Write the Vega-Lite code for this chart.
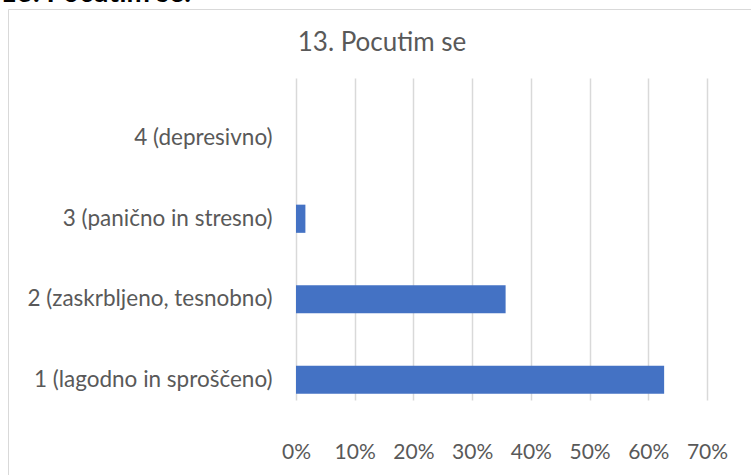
{
  "$schema": "https://vega.github.io/schema/vega-lite/v6.json",
  "autosize": "none",
  "width": 760,
  "height": 480,
  "padding": {"left": 8, "top": 9, "right": 0, "bottom": 0},
  "background": "white",
  "config": {
    "view": {"stroke": "#d9d9d9", "strokeWidth": 1},
    "font": "Lato"
  },
  "title": {
    "text": "13. Pocutim se",
    "anchor": "middle",
    "frame": "group",
    "dx": -6,
    "dy": 52,
    "offset": -46,
    "baseline": "alphabetic",
    "fontSize": 26,
    "fontWeight": "normal",
    "color": "#595959",
    "font": "Lato"
  },
  "data": {
    "values": [
      {"odgovor": "4 (depresivno)", "delez": 0},
      {"odgovor": "3 (panično in stresno)", "delez": 0.016},
      {"odgovor": "2 (zaskrbljeno, tesnobno)", "delez": 0.357},
      {"odgovor": "1 (lagodno in sproščeno)", "delez": 0.627}
    ]
  },
  "mark": {"type": "bar", "color": "#4472C4"},
  "encoding": {
    "y": {
      "field": "odgovor",
      "type": "nominal",
      "sort": ["4 (depresivno)", "3 (panično in stresno)", "2 (zaskrbljeno, tesnobno)", "1 (lagodno in sproščeno)"],
      "scale": {"range": [89, 411], "paddingInner": 0.65, "paddingOuter": 0.325},
      "axis": {
        "title": "13. Pocutim se:",
        "titleAngle": 0,
        "titleAlign": "left",
        "titleBaseline": "alphabetic",
        "titleX": -8,
        "titleY": -8,
        "titleFontSize": 28,
        "titleFontWeight": "bold",
        "titleColor": "#000000",
        "titleFont": "Lato",
        "domain": false,
        "ticks": false,
        "tickSize": 0,
        "grid": false,
        "labelPadding": -264,
        "labelAlign": "right",
        "labelLimit": 0,
        "labelFontSize": 22.5,
        "labelColor": "#595959",
        "labelFont": "Lato"
      }
    },
    "x": {
      "field": "delez",
      "type": "quantitative",
      "scale": {"domain": [0, 0.7], "range": [288, 699], "nice": false},
      "axis": {
        "title": null,
        "values": [0, 0.1, 0.2, 0.3, 0.4, 0.5, 0.6, 0.7],
        "format": ".0%",
        "offset": -69,
        "domain": false,
        "ticks": false,
        "tickSize": 0,
        "grid": true,
        "gridColor": "#d9d9d9",
        "gridWidth": 1.5,
        "labelPadding": 21,
        "labelFontSize": 21,
        "labelColor": "#595959",
        "labelFont": "Lato",
        "labelBaseline": "top",
        "labelFlush": false,
        "labelOverlap": false
      }
    }
  }
}
